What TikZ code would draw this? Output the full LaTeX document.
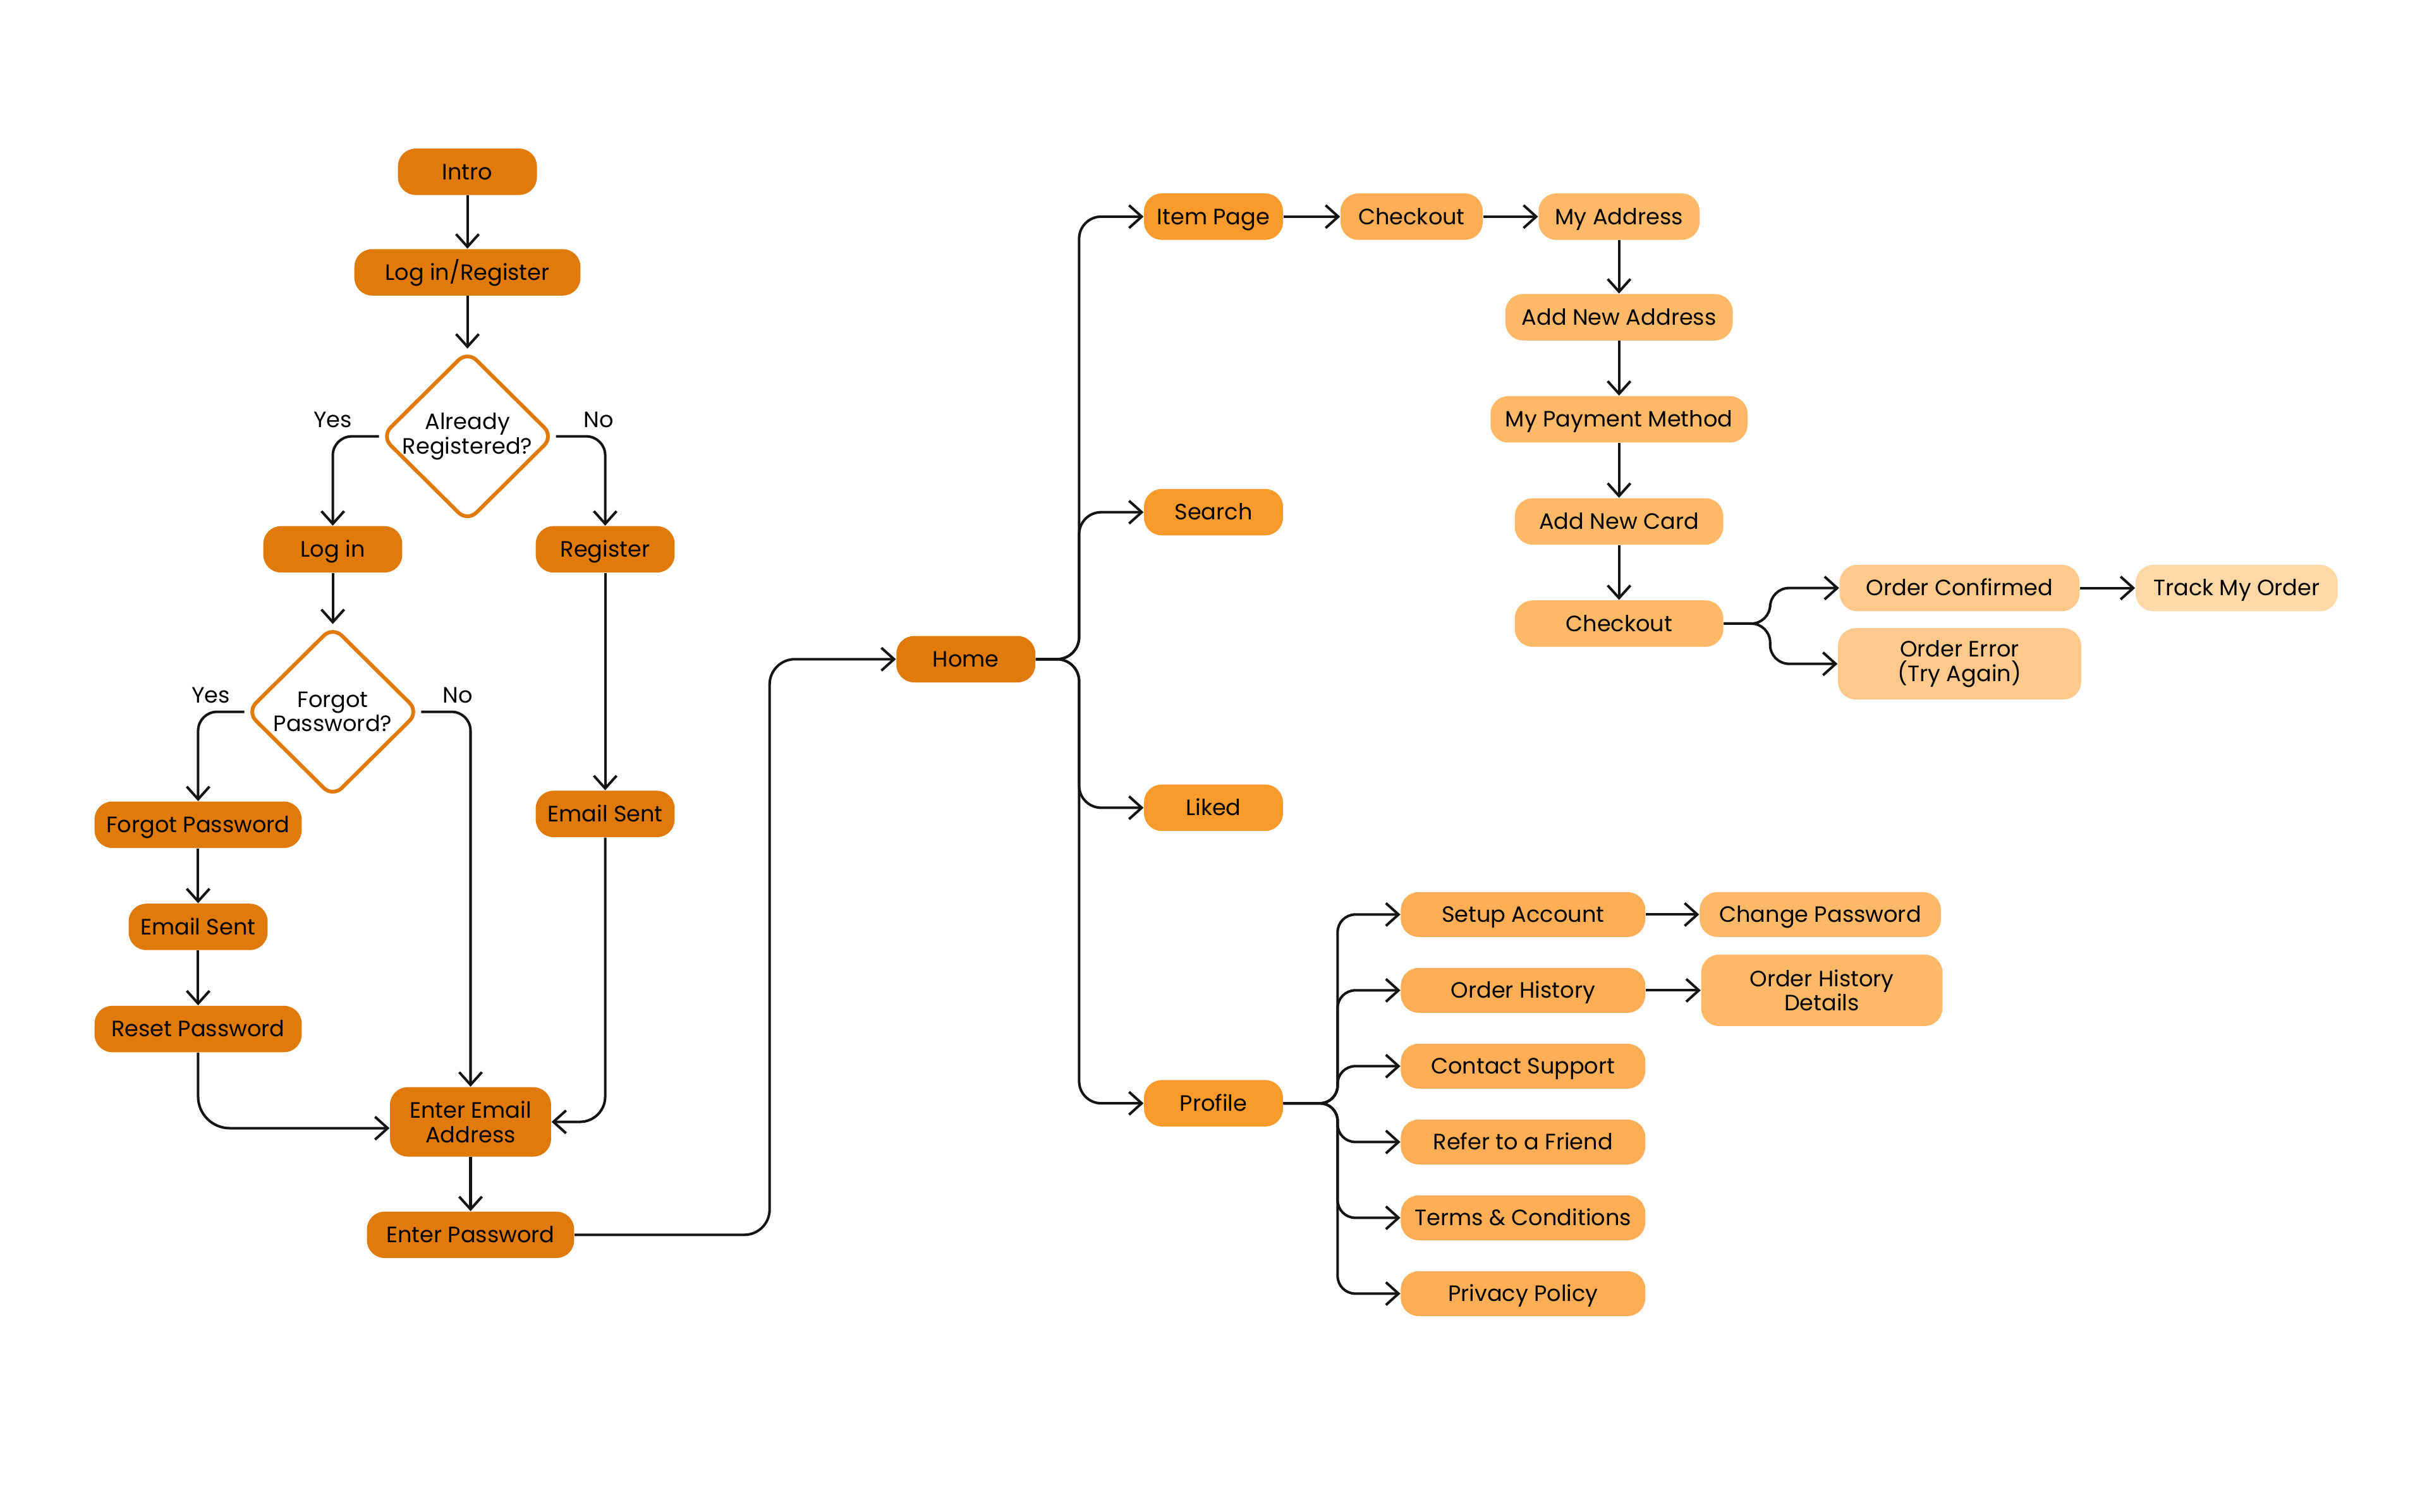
\documentclass[tikz,border=0pt]{standalone}
\usepackage{fontspec}
\setmainfont{Poppins}
\usetikzlibrary{shapes.geometric,arrows.meta}

\definecolor{deeporange}{HTML}{E07A0A}
\definecolor{midorange}{HTML}{F89A2C}
\definecolor{softorange}{HTML}{FBAE55}
\definecolor{paleorange}{HTML}{FDB968}
\definecolor{lightorange}{HTML}{FFC98B}
\definecolor{creamorange}{HTML}{FFD8A8}
\definecolor{linegray}{HTML}{141414}

\begin{document}
\begin{tikzpicture}[
  x=0.0245cm, y=-0.0245cm,
  every node/.style={font=\fontsize{10}{11}\selectfont, align=center, text height=0.95em, text depth=0.25em},
  twoline/.style={text height={}, text depth={}},
  box/.style={rectangle, rounded corners=2.8mm, minimum height=7.35mm, inner sep=1pt},
  dark/.style={box, fill=deeporange},
  mid/.style={box, fill=midorange},
  soft/.style={box, fill=softorange},
  pale/.style={box, fill=paleorange},
  light/.style={box, fill=lightorange},
  cream/.style={box, fill=creamorange},
  decision/.style={twoline, diamond, draw=deeporange, line width=1.7pt, fill=white, rounded corners=2mm,
    minimum width=2.74cm, minimum height=2.72cm, inner sep=-3pt},
  answer/.style={inner sep=1pt},
  flow/.style={-{Straight Barb[length=2mm,width=3.6mm]}, line width=1.15pt, draw=linegray}
]
  \useasboundingbox (0,0) rectangle (1568,977);

  % sign-in part
  \node[dark, minimum width=2.2cm] (intro) at (302,111) {Intro};
  \node[dark, minimum width=3.58cm] (logreg) at (302,176) {Log in/Register};
  \node[decision] (registered) at (302,282) {Already\\Registered?};
  \node[dark, minimum width=2.2cm] (login) at (215,355) {Log in};
  \node[dark, minimum width=2.2cm] (register) at (391,355) {Register};
  \node[decision] (forgot) at (215,460) {Forgot\\Password?};
  \node[dark, minimum width=3.28cm] (forgotpw) at (128,533) {Forgot Password};
  \node[dark, minimum width=2.2cm] (sentleft) at (128,599) {Email Sent};
  \node[dark, minimum width=3.28cm] (resetpw) at (128,665) {Reset Password};
  \node[dark, minimum width=2.2cm] (sentright) at (391,526) {Email Sent};
  \node[dark, twoline, minimum width=2.55cm, minimum height=1.1cm] (email) at (304,725) {Enter Email\\Address};
  \node[dark, minimum width=3.28cm] (password) at (304,798) {Enter Password};
  \node[dark, minimum width=2.2cm] (home) at (624,426) {Home};

  % shop part
  \node[mid, minimum width=2.2cm] (item) at (784,140) {Item Page};
  \node[soft, minimum width=2.25cm] (checkout) at (912,140) {Checkout};
  \node[pale, minimum width=2.55cm] (address) at (1046,140) {My Address};
  \node[pale, minimum width=3.6cm] (newaddress) at (1046,205) {Add New Address};
  \node[pale, minimum width=4.07cm] (payment) at (1046,271) {My Payment Method};
  \node[pale, minimum width=3.3cm] (newcard) at (1046,337) {Add New Card};
  \node[pale, minimum width=3.3cm] (checkouttwo) at (1046,403) {Checkout};
  \node[light, minimum width=3.8cm] (confirmed) at (1266,380) {Order Confirmed};
  \node[cream, minimum width=3.2cm] (track) at (1445,380) {Track My Order};
  \node[light, twoline, minimum width=3.85cm, minimum height=1.13cm] (error) at (1266,429) {Order Error\\(Try Again)};
  \node[mid, minimum width=2.2cm] (search) at (784,331) {Search};
  \node[mid, minimum width=2.2cm] (liked) at (784,522) {Liked};
  \node[mid, minimum width=2.2cm] (profile) at (784,713) {Profile};

  % profile part
  \foreach \name/\y/\label in {setup/591/Setup Account, history/640/Order History,
      support/689/Contact Support, refer/738/Refer to a Friend,
      terms/787/Terms \& Conditions, privacy/836/Privacy Policy}
    \node[soft, minimum width=3.87cm, minimum height=7.1mm] (\name) at (984,\y) {\label};
  \node[pale, minimum width=3.82cm, minimum height=7.1mm] (changepw) at (1176,591) {Change Password};
  \node[pale, twoline, minimum width=3.82cm, minimum height=1.13cm] (details) at (1177,640) {Order History\\Details};

  % connectors
  \draw[flow] (intro) -- (logreg);
  \draw[flow] (logreg) -- (registered);
  \draw[flow, rounded corners=3mm] (registered.west) -| node[answer, pos=0.5, above]{Yes} (login);
  \draw[flow, rounded corners=3mm] (registered.east) -| node[answer, pos=0.5, above, xshift=-1mm]{No} (register);
  \draw[flow] (login) -- (forgot);
  \draw[flow, rounded corners=3mm] (forgot.west) -| node[answer, pos=0.5, above, xshift=2mm]{Yes} (forgotpw);
  \draw[flow, rounded corners=3mm] (forgot.east) -| node[answer, pos=0.5, above, xshift=-2mm]{No} (email);
  \draw[flow] (forgotpw) -- (sentleft);
  \draw[flow] (sentleft) -- (resetpw);
  \draw[flow, rounded corners=5mm] (resetpw) |- ([yshift=-1mm]email.west);
  \draw[flow] (register) -- (sentright);
  \draw[flow, rounded corners=4mm] (sentright) |- (email.east);
  \draw[flow] (email) -- (password);
  \draw[flow, rounded corners=4mm] (password.east) -- ++(126,0) |- (home.west);

  \foreach \target in {item, search, liked, profile}
    \draw[flow, rounded corners=3.5mm] (home.east) -- ++(28,0) |- (\target.west);
  \draw[flow] (item) -- (checkout);
  \draw[flow] (checkout) -- (address);
  \draw[flow] (address) -- (newaddress);
  \draw[flow] (newaddress) -- (payment);
  \draw[flow] (payment) -- (newcard);
  \draw[flow] (newcard) -- (checkouttwo);
  \foreach \target in {confirmed, error}
    \draw[flow, rounded corners=3mm] (checkouttwo.east) -- ++(30,0) |- (\target.west);
  \draw[flow] (confirmed) -- (track);

  \foreach \target in {setup, history, support, refer, terms, privacy}
    \draw[flow, rounded corners=2.8mm] (profile.east) -- ++(35,0) |- (\target.west);
  \draw[flow] (setup) -- (changepw);
  \draw[flow] (history) -- (details);
\end{tikzpicture}
\end{document}
